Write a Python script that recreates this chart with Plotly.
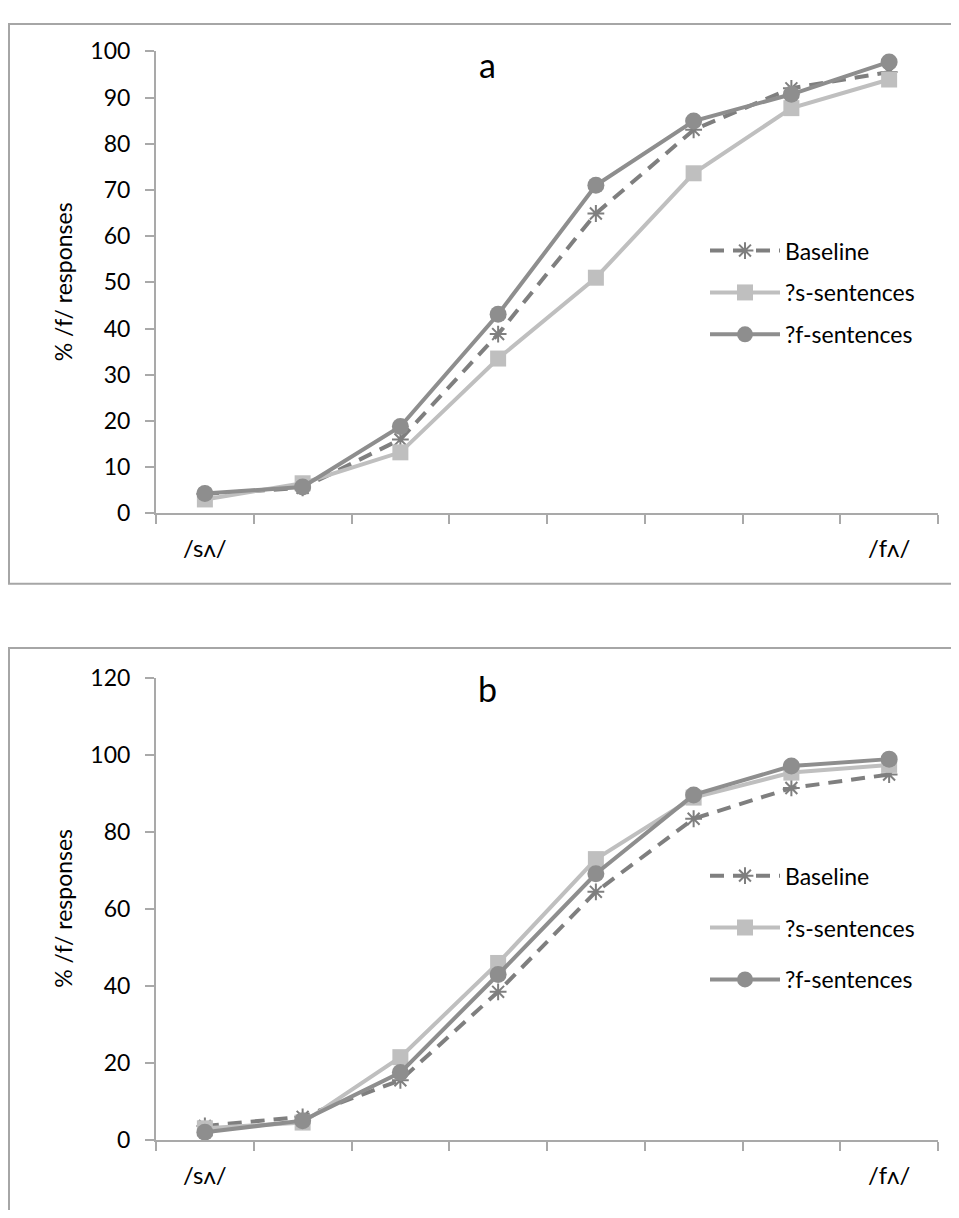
import plotly.graph_objects as go

# The page body has an 8px margin, so the figure is drawn 8px right/down.
OFF = 8
W, H = 943, 1202

categories = [1, 2, 3, 4, 5, 6, 7, 8]
tick_labels = ["/sʌ/", "", "", "", "", "", "", "/fʌ/"]
series_names = ["Baseline", "?s-sentences", "?f-sentences"]

a_baseline = [4.2, 5.5, 16.0, 38.8, 64.9, 83.0, 92.0, 95.5]
a_s_sent = [3.0, 6.5, 13.2, 33.5, 51.0, 73.6, 87.7, 93.9]
a_f_sent = [4.3, 5.7, 18.8, 43.1, 71.0, 84.9, 90.7, 97.7]

b_baseline = [3.6, 6.0, 15.5, 38.5, 64.5, 83.5, 91.5, 95.0]
b_s_sent = [3.0, 4.5, 21.5, 46.0, 73.0, 89.0, 95.5, 97.5]
b_f_sent = [2.0, 5.0, 17.5, 43.0, 69.2, 89.7, 97.2, 99.0]

FONT = "Lato, Carlito, Calibri, sans-serif"
C_BASE = "#7f7f7f"
C_S = "#bfbfbf"
C_F = "#8e8e8e"
AX = "#a9a9a9"


def px(x):
    return (x - OFF) / W


def py(y):
    return 1 - (y - OFF) / H


fig = go.Figure()


def add_series(vals, xa, ya, leg):
    b, s, f = vals
    fig.add_trace(go.Scatter(
        x=categories, y=b, name=series_names[0], mode="lines+markers",
        xaxis=xa, yaxis=ya, legend=leg, legendgroup=leg + "b",
        line=dict(color=C_BASE, width=4, dash="14px,9px"),
        marker=dict(symbol="asterisk-open", size=14, color=C_BASE,
                    line=dict(color=C_BASE, width=2)),
        cliponaxis=False))
    fig.add_trace(go.Scatter(
        x=categories, y=s, name=series_names[1], mode="lines+markers",
        xaxis=xa, yaxis=ya, legend=leg, legendgroup=leg + "s",
        line=dict(color=C_S, width=4),
        marker=dict(symbol="square", size=16, color=C_S),
        cliponaxis=False))
    fig.add_trace(go.Scatter(
        x=categories, y=f, name=series_names[2], mode="lines+markers",
        xaxis=xa, yaxis=ya, legend=leg, legendgroup=leg + "f",
        line=dict(color=C_F, width=4),
        marker=dict(symbol="circle", size=17, color=C_F),
        cliponaxis=False))


add_series((a_baseline, a_s_sent, a_f_sent), "x", "y", "legend")
add_series((b_baseline, b_s_sent, b_f_sent), "x2", "y2", "legend2")

xdom = [px(156), px(938)]
xcommon = dict(
    range=[0.5, 8.5], tickmode="array", tickvals=categories, ticktext=tick_labels,
    ticks="", showline=True, linecolor=AX, linewidth=2, showgrid=False,
    zeroline=False, tickfont=dict(family=FONT, size=24, color="black"),
    ticklabelstandoff=13,
    minor=dict(tickmode="linear", tick0=0.5, dtick=1, ticks="outside",
               ticklen=9, tickcolor=AX, tickwidth=2, showgrid=False),
    fixedrange=True,
)
ycommon = dict(
    ticks="outside", ticklen=9, tickcolor=AX, tickwidth=2, showline=True,
    linecolor=AX, linewidth=2, showgrid=False, zeroline=False,
    tickfont=dict(family=FONT, size=23, color="black"), ticklabelstandoff=10,
)

legcommon = dict(
    xanchor="left", yanchor="top", bgcolor="rgba(0,0,0,0)",
    font=dict(family=FONT, size=23, color="black"), itemwidth=70,
    traceorder="grouped",
)

fig.update_layout(
    width=W, height=H, margin=dict(l=0, r=0, t=0, b=0),
    paper_bgcolor="white", plot_bgcolor="white",
    xaxis=dict(domain=xdom, anchor="y", **xcommon),
    yaxis=dict(domain=[py(510), py(37)], anchor="x", range=[0, 100],
               tickvals=[0, 10, 20, 30, 40, 50, 60, 70, 80, 90, 100], **ycommon),
    xaxis2=dict(domain=xdom, anchor="y2", **xcommon),
    yaxis2=dict(domain=[py(1151.5), py(679)], anchor="x2", range=[0, 120],
                tickvals=[0, 20, 40, 60, 80, 100, 120], **ycommon),
    legend=dict(x=px(705), y=py(219), tracegroupgap=9, **legcommon),
    legend2=dict(x=px(705), y=py(859), tracegroupgap=19, **legcommon),
    showlegend=True,
    shapes=[
        dict(type="rect", xref="paper", yref="paper", x0=px(9), x1=px(975),
             y0=py(582), y1=py(9), line=dict(color="#a6a6a6", width=2)),
        dict(type="rect", xref="paper", yref="paper", x0=px(9), x1=px(975),
             y0=py(1240), y1=py(648), line=dict(color="#a6a6a6", width=2)),
    ],
    annotations=[
        dict(text="a", x=px(488), y=py(50), xref="paper", yref="paper",
             xanchor="center", yanchor="middle", showarrow=False,
             font=dict(family=FONT, size=34, color="black")),
        dict(text="b", x=px(488), y=py(689), xref="paper", yref="paper",
             xanchor="center", yanchor="middle", showarrow=False,
             font=dict(family=FONT, size=34, color="black")),
        dict(text="% /f/ responses", x=px(63), y=py(273.5), xref="paper", yref="paper",
             xanchor="center", yanchor="middle", showarrow=False, textangle=-90,
             font=dict(family=FONT, size=23, color="black")),
        dict(text="% /f/ responses", x=px(63), y=py(915), xref="paper", yref="paper",
             xanchor="center", yanchor="middle", showarrow=False, textangle=-90,
             font=dict(family=FONT, size=23, color="black")),
    ],
)

fig.write_html("out.html")
